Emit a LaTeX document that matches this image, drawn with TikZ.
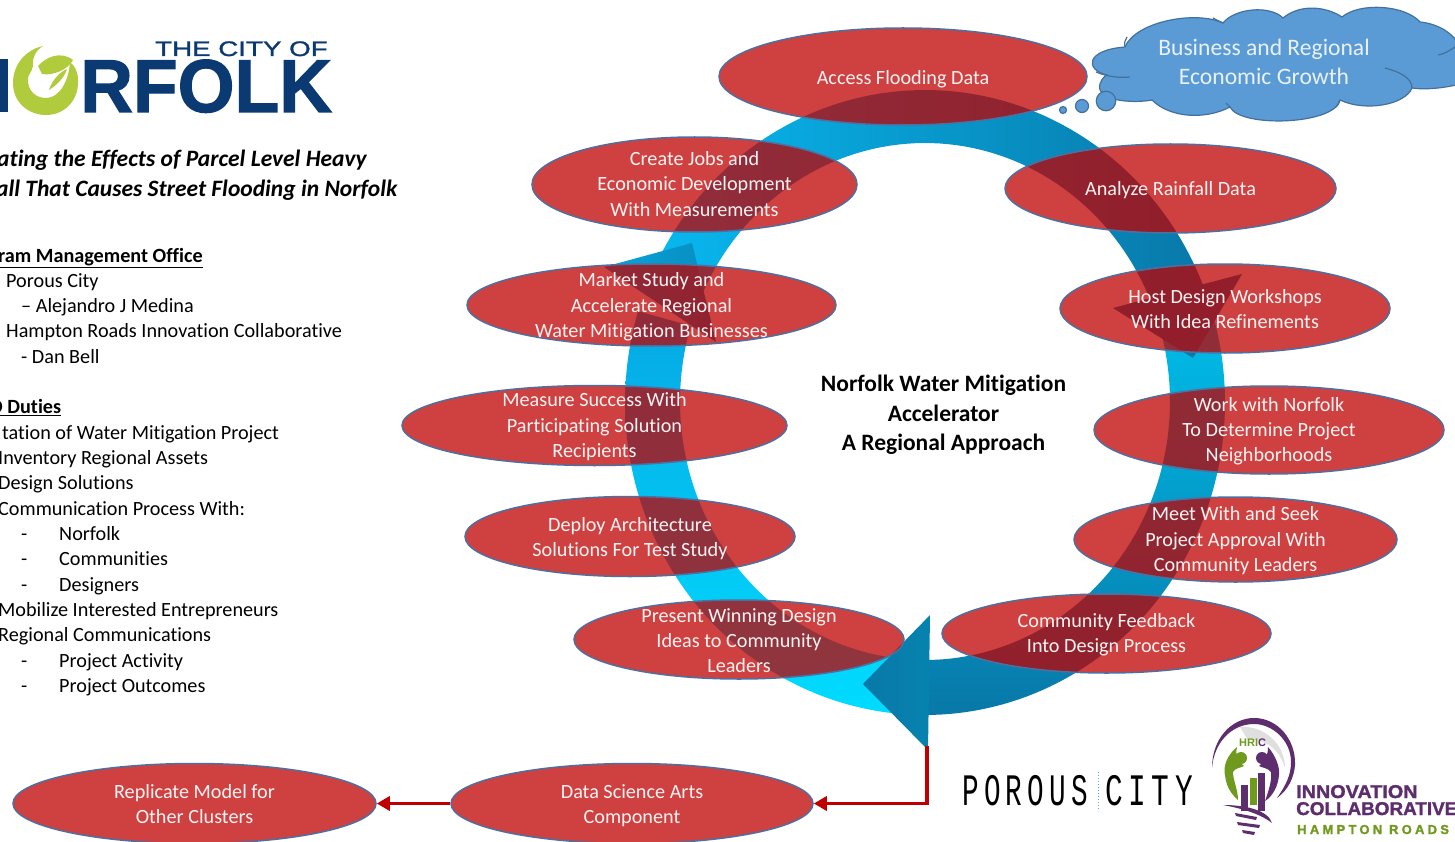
\documentclass[tikz,border=0pt]{standalone}
\usepackage{graphicx}
\usepackage{fontspec}
\setmainfont{Carlito}[Ligatures=NoCommon]
\newfontfamily\logofont{Liberation Sans}
\newfontfamily\logoheavy{Liberation Sans Bold}[FakeBold=1.5]
\newfontfamily\logomedium{Liberation Sans}[FakeBold=1.2]
\newfontfamily\monofont{Liberation Mono}[LetterSpace=19]
\usetikzlibrary{shapes.geometric,arrows.meta}
\definecolor{ovalfill}{HTML}{C00000}
\definecolor{ovalline}{HTML}{4F6F9F}
\definecolor{ovaltext}{HTML}{FAF3F3}
\definecolor{cloudfill}{HTML}{5B9BD5}
\definecolor{cloudline}{HTML}{41719C}
\definecolor{cloudtext}{HTML}{E8F1FA}
\definecolor{navy}{HTML}{0B3A73}
\definecolor{mermaid}{HTML}{B0CC3C}
\definecolor{hpurple}{HTML}{5E2D6E}
\definecolor{hgreen}{HTML}{6F9A1E}
\definecolor{darkband}{HTML}{0878A8}
\definecolor{midband}{HTML}{00BCE8}
\definecolor{cyanband}{HTML}{08B8F0}
\definecolor{skyband}{HTML}{06A8E4}
\definecolor{brightband}{HTML}{00DCFF}
\definecolor{arrowred}{HTML}{C00000}
\newcommand\ringband[2]{plot[domain=#1:#2,samples=70] ({925+300*cos(\x)},{402.5+312.5*sin(\x)}) -- plot[domain=#2:#1,samples=70] ({925+245*cos(\x)},{401.5+258.5*sin(\x)}) -- cycle}
\tikzset{
  oval/.style={ellipse,draw=ovalline,line width=1.5pt,fill=ovalfill,fill opacity=.75,inner sep=0pt},
  ovallabel/.style={text=ovaltext,align=center,inner sep=0pt,yshift=-2pt,font=\fontsize{20.2}{25.3}\selectfont},
  lefttext/.style={anchor=base west,inner sep=0pt,text=black,yshift=-.7pt,font=\fontsize{20.2}{24}\selectfont},
  titletext/.style={anchor=base west,inner sep=0pt,text=black,yshift=-1pt,font=\fontsize{23.5}{30}\selectfont\bfseries\itshape},
  logotext/.style={anchor=base west,inner sep=0pt},
  redarrow/.style={draw=arrowred,line width=3.2pt,-{Triangle[length=13pt,width=14pt]}},
  cloudshape/.style={fill=cloudfill,draw=cloudline,line width=1.2pt},
  bubble/.style={circle,fill=cloudfill,draw=cloudline,line width=1.2pt,inner sep=0pt},
}
\begin{document}
\begin{tikzpicture}[x=1pt,y=-1pt]
\useasboundingbox (0,0) rectangle (1455,842);
\clip (0,0) rectangle (1455,842);
\fill[white] (0,0) rectangle (1455,842);

% ---- ring bands and arrow heads
\shade[left color=cyanband,right color=darkband] \ringband{205}{340};
\shade[top color=skyband,bottom color=brightband] \ringband{91}{197};
\shade[top color=midband,bottom color=darkband] \ringband{-15}{90};
\fill[darkband] (1113,308) -- (1242,274) -- (1193,358) -- cycle;
\shade[left color=darkband,right color=darkband!92!cyan] (930,615) -- (863,684) -- (928,750) -- cycle;
\shade[left color=cyanband!70!darkband,right color=darkband!70!cyanband] (604,267) -- (692,243) -- (716,342) -- cycle;

% ---- cloud
\draw[cloudshape] (1125,47) .. controls (1135,22) and (1195,10) .. (1223,23)
  .. controls (1235,8) and (1270,5) .. (1283,18)
  .. controls (1300,4) and (1325,6) .. (1342,17)
  .. controls (1360,2) and (1405,5) .. (1420,22)
  .. controls (1440,24) and (1455,35) .. (1460,47)
  -- (1470,65) -- (1460,84)
  .. controls (1445,88) and (1425,90) .. (1412,88)
  .. controls (1405,105) and (1365,112) .. (1340,100)
  .. controls (1335,125) and (1240,128) .. (1230,107)
  .. controls (1205,120) and (1170,118) .. (1152,100)
  .. controls (1130,104) and (1095,100) .. (1100,84)
  .. controls (1102,78) and (1105,76) .. (1107,75)
  .. controls (1085,70) and (1085,50) .. (1125,47) -- cycle;
\draw[cloudline,line width=1.2pt] (1385,68) .. controls (1400,72) and (1412,78) .. (1412,88);
\draw[cloudline,line width=1.2pt] (1438,55) .. controls (1445,54) and (1450,50) .. (1455,47);
\draw[cloudline,line width=1.2pt] (1096,72) .. controls (1108,77) and (1120,78) .. (1130,77);
\draw[cloudline,line width=1.2pt] (1125,47) .. controls (1124,43) and (1125,40) .. (1127,37);
\draw[cloudline,line width=1.2pt] (1223,23) .. controls (1219,21) and (1216,20) .. (1213,18);
\draw[cloudline,line width=1.2pt] (1340,100) .. controls (1339,103) and (1338,105) .. (1336,107);
\draw[cloudline,line width=1.2pt] (1230,107) .. controls (1228,105) and (1227,104) .. (1226,103);
\node[bubble,minimum size=19.5pt] (bubbleC) at (1106,101) {};
\node[bubble,minimum size=13pt] (bubbleB) at (1082,106) {};
\node[bubble,minimum size=7pt] (bubbleA) at (1063,110) {};
\node[text=cloudtext,align=center,inner sep=0pt,font=\fontsize{23.6}{29}\selectfont] (cloudlabel) at (1264,62) {Business and Regional\\Economic Growth};

% ---- ovals
\node[oval,minimum width=368pt,minimum height=97pt] (access) at (903,76.5) {};
\node[oval,minimum width=331pt,minimum height=89pt] (analyze) at (1170.5,188.5) {};
\node[oval,minimum width=330pt,minimum height=89pt] (host) at (1225,308.5) {};
\node[oval,minimum width=350pt,minimum height=88pt] (work) at (1269,430) {};
\node[oval,minimum width=323pt,minimum height=85pt] (meet) at (1235.5,539.5) {};
\node[oval,minimum width=329pt,minimum height=79pt] (feedback) at (1106.5,633.5) {};
\node[oval,minimum width=330pt,minimum height=79pt] (present) at (739,639.5) {};
\node[oval,minimum width=330pt,minimum height=80pt] (deploy) at (630,536.5) {};
\node[oval,minimum width=385pt,minimum height=80pt] (measure) at (594.5,425.5) {};
\node[oval,minimum width=369pt,minimum height=82pt] (market) at (651.5,305) {};
\node[oval,minimum width=325pt,minimum height=95pt] (create) at (694.5,184.5) {};
\node[oval,minimum width=362pt,minimum height=80pt] (data) at (632,803.5) {};
\node[oval,minimum width=363pt,minimum height=80pt] (replicate) at (194.5,803.5) {};

\node[ovallabel,yshift=-1pt] (laccess) at (access) {Access Flooding Data};
\node[ovallabel] (lanalyze) at (analyze) {Analyze Rainfall Data};
\node[ovallabel,yshift=1.5pt] (lhost) at (host) {Host Design Workshops\\With Idea Refinements};
\node[ovallabel,yshift=.7pt] (lwork) at (work) {Work with Norfolk\\To Determine Project\\Neighborhoods};
\node[ovallabel,yshift=.7pt] (lmeet) at (meet) {Meet With and Seek\\Project Approval With\\Community Leaders};
\node[ovallabel,yshift=1pt] (lfeedback) at (feedback) {Community Feedback\\Into Design Process};
\node[ovallabel,yshift=1pt] (lpresent) at (present) {Present Winning Design\\Ideas to Community\\Leaders};
\node[ovallabel] (ldeploy) at (deploy) {Deploy Architecture\\Solutions For Test Study};
\node[ovallabel,yshift=.7pt] (lmeasure) at (measure) {Measure Success With\\Participating Solution\\Recipients};
\node[ovallabel] (lmarket) at (market) {Market Study and\\Accelerate Regional\\Water Mitigation Businesses};
\node[ovallabel,yshift=2.5pt] (lcreate) at (create) {Create Jobs and\\Economic Development\\With Measurements};
\node[ovallabel] (ldata) at (data) {Data Science Arts\\Component};
\node[ovallabel,yshift=1.5pt] (lreplicate) at (replicate) {Replicate Model for\\Other Clusters};

% ---- centre title
\node[align=center,inner sep=0pt,font=\fontsize{23.5}{29.6}\selectfont\bfseries] (centre) at (943.5,415) {Norfolk Water Mitigation\\Accelerator\\A Regional Approach};

% ---- red connectors
\coordinate (redstart) at (927,746);
\draw[redarrow] (redstart) |- (data.east);
\draw[redarrow] (data.west) -- (replicate.east);

% ---- left column
\node[titletext] (title1) at (-3,166) {ating the Effects of Parcel Level Heavy};
\node[titletext] (title2) at (-4,196) {all That Causes Street Flooding in Norfolk};
\node[lefttext,font=\fontsize{20.2}{24}\selectfont\bfseries] (pmo) at (-2,262) {\underline{ram Management Office}};
\node[lefttext] (t1) at (6,286.5) {Porous City};
\node[lefttext] (t2) at (21,312) {– Alejandro J Medina};
\node[lefttext] (t3) at (6,337) {Hampton Roads Innovation Collaborative};
\node[lefttext] (t4) at (21,363) {- Dan Bell};
\node[lefttext,font=\fontsize{20.2}{24}\selectfont\bfseries] (duties) at (-11,413) {\underline{O Duties}};
\node[lefttext] (t5) at (2,438.5) {tation of Water Mitigation Project};
\node[lefttext] (t6) at (-2,464) {Inventory Regional Assets};
\node[lefttext] (t7) at (-2,489) {Design Solutions};
\node[lefttext] (t8) at (-2,514.5) {Communication Process With:};
\node[lefttext] (d1) at (21,540) {-};
\node[lefttext] (t9) at (59,540) {Norfolk};
\node[lefttext] (d2) at (21,565) {-};
\node[lefttext] (t10) at (59,565) {Communities};
\node[lefttext] (d3) at (21,590.5) {-};
\node[lefttext] (t11) at (59,590.5) {Designers};
\node[lefttext] (t12) at (-2,615.5) {Mobilize Interested Entrepreneurs};
\node[lefttext] (t13) at (-2,641) {Regional Communications};
\node[lefttext] (d4) at (21,666.5) {-};
\node[lefttext] (t14) at (59,666.5) {Project Activity};
\node[lefttext] (d5) at (21,691.5) {-};
\node[lefttext] (t15) at (59,691.5) {Project Outcomes};

% ---- Norfolk logo
\fill[navy] (0,59) rectangle (8,112);
\fill[mermaid] (43,46) .. controls (25,50) and (13,65) .. (13,83)
  .. controls (13,102) and (28,115) .. (46,115)
  .. controls (65,115) and (79,100) .. (78,80)
  .. controls (78,72) and (75,66) .. (70,62)
  .. controls (69,80) and (60,98) .. (46,98)
  .. controls (35,98) and (27,90) .. (28,78)
  .. controls (28,75) and (32,72) .. (33,66)
  .. controls (32,58) and (36,50) .. (43,46) -- cycle;
\fill[mermaid] (38,66) .. controls (45,58) and (60,50) .. (73,60)
  .. controls (68,70) and (52,76) .. (42,74) -- cycle;
\fill[mermaid] (49,90) .. controls (52,80) and (60,72) .. (67,69)
  .. controls (64,78) and (57,85) .. (49,90) -- cycle;
\node[logotext,text=navy,font=\logoheavy\fontsize{75}{75}\selectfont] (norfolkname) at (80,112) {\scalebox{.975}[1]{RFOLK}};
\node[logotext,text=navy,font=\logomedium\fontsize{21}{21}\selectfont] (cityof) at (155,56) {\scalebox{1.32}[1]{THE CITY OF}};

% ---- Porous City logo
\node[logotext,font=\monofont\fontsize{45}{45}\selectfont] (porous) at (962,805) {\scalebox{.615}[1]{POROUS}};
\node[logotext,font=\monofont\fontsize{45}{45}\selectfont] (city) at (1105,805) {\scalebox{.655}[1]{CITY}};
\draw[cyan!60!gray,line width=1pt,dotted] (1098,772) -- (1098,810);

% ---- HRIC logo
\fill[gray!25] (1240,727) .. controls (1265,725) and (1285,745) .. (1285,768)
  .. controls (1280,750) and (1265,738) .. (1248,740) -- cycle;
\fill[hpurple] (1212,768) .. controls (1212,738) and (1232,718) .. (1254,718)
  .. controls (1278,718) and (1296,740) .. (1295,765)
  .. controls (1294,778) and (1288,790) .. (1277,798)
  .. controls (1286,785) and (1291,775) .. (1291,762)
  .. controls (1291,740) and (1272,724) .. (1254,724)
  .. controls (1232,724) and (1214,742) .. (1212,768) -- cycle;
\fill[hgreen] (1237,747) .. controls (1226,756) and (1223,768) .. (1225,775)
  .. controls (1226,786) and (1231,794) .. (1238,800)
  .. controls (1238,790) and (1233,780) .. (1233,772)
  .. controls (1235,768) and (1240,768) .. (1244,766)
  .. controls (1238,762) and (1235,755) .. (1237,747) -- cycle;
\fill[hpurple] (1268,747) .. controls (1276,756) and (1280,768) .. (1279,775)
  .. controls (1278,786) and (1273,796) .. (1265,801)
  .. controls (1269,790) and (1272,780) .. (1271,772)
  .. controls (1268,768) and (1263,768) .. (1259,766)
  .. controls (1265,762) and (1268,755) .. (1268,747) -- cycle;
\fill[hgreen] (1241,758) circle (6);
\fill[hpurple] (1262,758) circle (6);
\fill[hpurple] (1241,785) rectangle (1248,811);
\fill[hgreen] (1250,778) rectangle (1257,805);
\fill[hpurple] (1258,773) rectangle (1265,811);
\fill[hpurple] (1223,805) .. controls (1245,805) and (1268,810) .. (1272,823)
  .. controls (1262,815) and (1245,809) .. (1223,805) -- cycle;
\fill[hpurple] (1235,813) -- (1257,817) -- (1256,820) -- (1236,816) -- cycle;
\fill[hpurple] (1237,822) -- (1260,825) -- (1259,828) -- (1238,825) -- cycle;
\fill[hpurple] (1242,830) -- (1255,832) -- (1254,835) -- (1243,833) -- cycle;
\node[logotext,font=\logofont\fontsize{11}{11}\selectfont\bfseries] (hric) at (1239,746) {\textcolor{hgreen}{HRI}\textcolor{hpurple}{C}};
\node[logotext,text=hpurple,font=\logoheavy\fontsize{18.5}{18.5}\selectfont] (innovation) at (1296,798) {\scalebox{1.07}[1]{INNOVATION}};
\node[logotext,text=hpurple,font=\logoheavy\fontsize{18.5}{18.5}\selectfont] (collab) at (1296,815) {\scalebox{1.02}[1]{COLLABORATIVE}};
\node[logotext,text=hgreen,font=\logoheavy\fontsize{13}{13}\selectfont\addfontfeature{LetterSpace=25}] (hampton) at (1297,834) {HAMPTON ROADS};
\end{tikzpicture}
\end{document}
